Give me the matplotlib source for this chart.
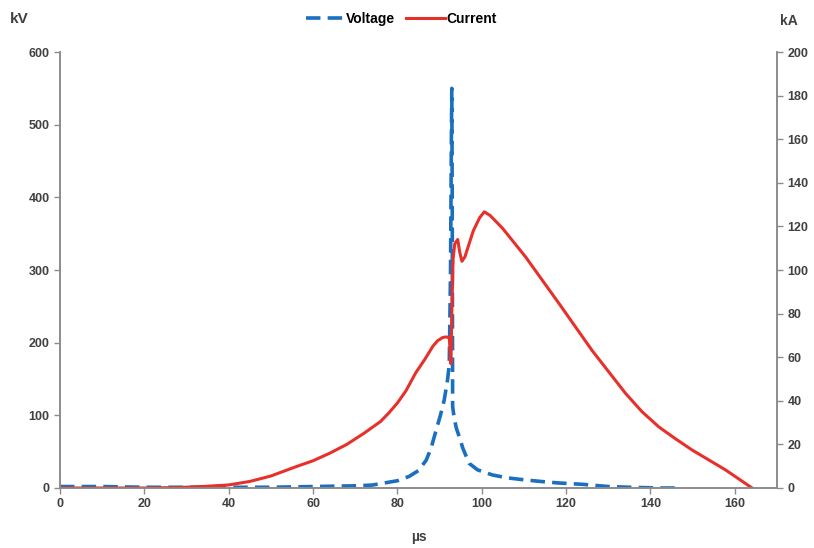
import matplotlib
matplotlib.use("Agg")
import matplotlib.pyplot as plt

# time axis (microseconds) and readings taken from the record
t_voltage = [0, 10, 20, 30, 40, 50, 60, 70, 74, 77, 80, 82.8, 85, 86.8, 88, 89.2, 90.2, 91.1,
             91.9, 92.3, 92.6, 92.8, 92.9, 93.0, 93.1, 93.5, 94.0, 94.7, 95.5, 97, 99,
             102.5, 106, 110.4, 114, 118, 124, 130, 135, 142, 147]
voltage_kv = [2, 2, 1, 1, 1, 1, 2, 3, 4, 7, 10, 16, 24, 38, 55, 80, 100, 121,
              149, 170, 300, 480, 550, 400, 112, 95, 82, 70, 55, 34, 25,
              18, 14, 11, 9, 7, 5, 2, 1, 0, 0]

t_current = [0, 5, 10, 20, 28, 34, 40, 45, 50, 56, 60, 64, 68, 72, 76, 78, 80, 82, 84.4, 86.5,
             88.4, 89.5, 90.7, 91.5, 92.3, 92.7, 92.9, 93.2, 93.6, 94.3, 94.8, 95.3, 96,
             97, 98, 99.5, 100.6, 102, 105, 110.4, 118.3, 126.2, 134.1, 138, 142, 146,
             149.9, 153.9, 157.8, 164.1]
current_ka = [0, 0, 0, 0, 0.2, 0.7, 1.4, 3, 5.5, 9.8, 12.5, 16, 20, 25, 30.5, 34.5, 39, 44.5,
              53, 59, 65, 67.5, 69, 69.3, 69, 57, 80, 105, 112, 114, 108, 104, 106,
              112, 118, 124, 126.7, 125, 119, 106, 84.7, 63, 43.4, 35, 28, 22.5,
              17.4, 12.8, 8.3, 0]

x_ticks = list(range(0, 161, 20))
kv_ticks = list(range(0, 601, 100))
ka_ticks = list(range(0, 201, 20))

blue = "#1a6fc0"
red = "#e8302a"
grey = "#8c8c8c"
text_col = "#404040"

plt.rcParams['font.family'] = ['Liberation Sans', 'DejaVu Sans']

fig = plt.figure(figsize=(8.14, 5.48), dpi=100)
ax = fig.add_axes([0.0737, 0.1095, 0.8808, 0.7955])
ax2 = ax.twinx()

lv, = ax.plot(t_voltage, voltage_kv, color=blue, lw=2.6, ls=(0, (4, 2.0)))
lc, = ax2.plot(t_current, current_ka, color=red, lw=2.2)

ax.set_xlim(0, 170)
ax.set_ylim(0, 600)
ax2.set_ylim(0, 200)
ax.set_xticks(x_ticks)
ax.set_yticks(kv_ticks)
ax2.set_yticks(ka_ticks)

for a in (ax, ax2):
    a.spines['top'].set_visible(False)
    for s in ('left', 'right', 'bottom'):
        a.spines[s].set_color(grey)
        a.spines[s].set_linewidth(1.2)
    a.tick_params(colors=grey, labelcolor=text_col, labelsize=9, length=4, width=1)
    for lbl in a.get_xticklabels() + a.get_yticklabels():
        lbl.set_fontweight('bold')

ax.set_xlabel("µs", fontsize=10, fontweight='bold', color=text_col, labelpad=14)
fig.text(0.012, 0.965, "kV", fontsize=11, fontweight='bold', color=text_col, va='center')
fig.text(0.958, 0.962, "kA", fontsize=10, fontweight='bold', color=text_col, va='center')

fig.legend([lv, lc], ["Voltage", "Current"], loc='center', bbox_to_anchor=(0.493, 0.966),
           ncol=2, frameon=False, handlelength=2.8, columnspacing=0.8,
           handletextpad=0.1, prop={'weight': 'bold', 'size': 10})

fig.savefig("out.png", dpi=100)
